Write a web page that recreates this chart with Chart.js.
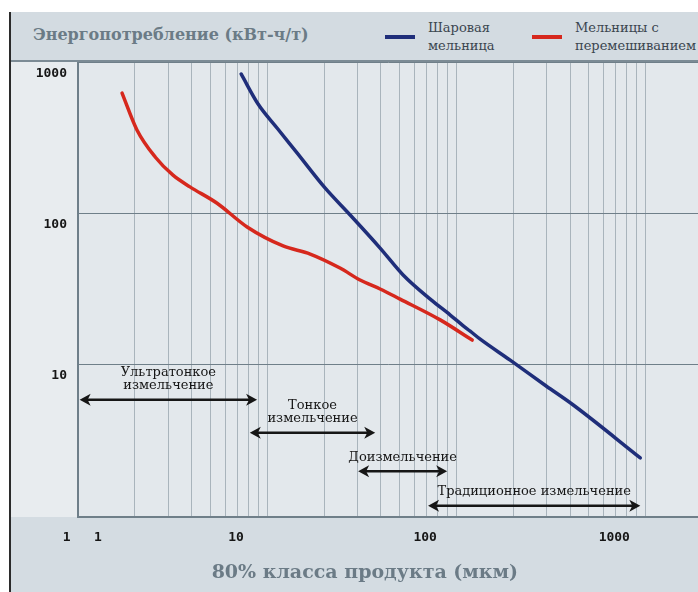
<!DOCTYPE html>
<html>
<head>
<meta charset="utf-8">
<script src="https://cdn.jsdelivr.net/npm/chart.js@4.4.1/dist/chart.umd.min.js"></script>
<style>
  body { margin: 0; background: #fff; width: 698px; height: 592px; overflow: hidden; position: relative; font-family: 'DejaVu Serif', serif; }
  #frame { position: absolute; left: 9px; top: 12px; width: 2px; height: 580px; background: #2b2b2b; }
  #head { position: absolute; left: 11px; top: 12px; width: 687px; height: 48px; background: #d3dbe1; border-bottom: 2px solid #7c8b95; }
  #ytitle { position: absolute; left: 22px; top: 13px; font-weight: bold; font-size: 16px; color: #6b7b86; white-space: nowrap; }
  .leg { position: absolute; top: 7px; font-size: 13px; line-height: 18px; color: #3b4650; white-space: nowrap; }
  .leg i { position: absolute; left: -43px; top: 16px; width: 30px; height: 4px; }
  #wrap { position: absolute; left: 11px; top: 62px; width: 687px; height: 530px; }
</style>
</head>
<body>
<div id="frame"></div>
<div id="head"><div id="ytitle">Энергопотребление (кВт-ч/т)</div></div>
<div id="wrap"><canvas id="chart" width="687" height="530"></canvas></div>
<script>
// ball mill
const ballX = [7.29, 8.96, 11.4, 14.4, 20.3, 27.5, 39.6, 52.4, 72.9, 93.0, 109, 118.6, 134, 193, 299, 416, 941];
const ballY = [833, 527, 360, 250, 146, 97, 58.6, 38.9, 26.9, 21.1, 17.9, 16.5, 14.6, 10.6, 7.15, 5.35, 2.39];
// stirred mills
const stirX = [1.71, 2.05, 2.56, 3.18, 3.91, 5.44, 7.84, 12.15, 16.9, 24.3, 31.0, 39.6, 50.5, 82.3, 121.5];
const stirY = [623, 355, 235, 178, 149, 116, 80.8, 60.5, 53.5, 43.2, 36.0, 31.4, 26.9, 19.6, 14.4];

const seriesNames = [['Шаровая', 'мельница'], ['Мельницы с', 'перемешиванием']];
const seriesColors = ['#1f2e7a', '#d6281d'];

const yTicks = [10, 100, 1000];
const xMajor = [1, 10, 100, 1000];
const xLabels = ['         1   1', '10', '100', '1000'];

// grinding ranges (мкм) and the energy level the arrow sits at
const rangeNames = [['Ультратонкое', 'измельчение'], ['Тонкое', 'измельчение'], ['Доизмельчение'], ['Традиционное измельчение']];
const rangeFrom = [1.02, 8.1, 30.3, 71];
const rangeTo = [8.85, 37.3, 89.6, 941];
const rangeLevel = [5.8, 3.5, 1.95, 1.15];

// legend in the header
const head = document.getElementById('head');
[428, 575].forEach((left, i) => {
  const d = document.createElement('div');
  d.className = 'leg';
  d.style.left = (left - 11) + 'px';
  d.innerHTML = '<i style="background:' + seriesColors[i] + '"></i>' + seriesNames[i].join('<br>');
  head.appendChild(d);
});

const bgPlugin = {
  id: 'bg',
  beforeDraw(chart) {
    const { ctx, chartArea: a, width, height } = chart;
    ctx.save();
    ctx.fillStyle = '#e8ecef';
    ctx.fillRect(0, 0, width, height);
    ctx.fillStyle = '#e3e8ec';
    ctx.fillRect(a.left, a.top, a.right - a.left, a.bottom - a.top);
    ctx.fillStyle = '#d4dce2';
    ctx.fillRect(0, a.bottom, width, height - a.bottom);
    ctx.restore();
  }
};

function arrowHead(ctx, x, y, dir) {
  ctx.beginPath();
  ctx.moveTo(x, y);
  ctx.lineTo(x - dir * 11, y - 6);
  ctx.lineTo(x - dir * 8, y);
  ctx.lineTo(x - dir * 11, y + 6);
  ctx.closePath();
  ctx.fill();
}

const rangePlugin = {
  id: 'ranges',
  afterDatasetsDraw(chart) {
    const { ctx, scales: { x, y } } = chart;
    ctx.save();
    ctx.strokeStyle = '#161616';
    ctx.fillStyle = '#161616';
    ctx.lineWidth = 2.5;
    ctx.font = '13px "DejaVu Serif"';
    ctx.textAlign = 'center';
    ctx.textBaseline = 'middle';
    rangeNames.forEach((lines, i) => {
      const x1 = x.getPixelForValue(rangeFrom[i]);
      const x2 = x.getPixelForValue(rangeTo[i]);
      const py = y.getPixelForValue(rangeLevel[i]);
      ctx.beginPath();
      ctx.moveTo(x1 + 6, py);
      ctx.lineTo(x2 - 6, py);
      ctx.stroke();
      arrowHead(ctx, x1, py, -1);
      arrowHead(ctx, x2, py, 1);
      const cx = (x1 + x2) / 2;
      lines.forEach((t, j) => {
        ctx.fillText(t, cx, py - 14 - (lines.length - 1 - j) * 13);
      });
    });
    ctx.restore();
  }
};

const xTicks = [];
xMajor.forEach(d => { for (let m = 1; m <= 9; m++) if (d * m <= 1000) xTicks.push(d * m); });

new Chart(document.getElementById('chart'), {
  type: 'line',
  data: {
    datasets: [
      { label: seriesNames[0].join(' '), data: ballX.map((v, i) => ({ x: v, y: ballY[i] })), borderColor: seriesColors[0] },
      { label: seriesNames[1].join(' '), data: stirX.map((v, i) => ({ x: v, y: stirY[i] })), borderColor: seriesColors[1] }
    ]
  },
  options: {
    responsive: false,
    animation: false,
    layout: { padding: 0 },
    elements: {
      line: { borderWidth: 3.5, cubicInterpolationMode: 'monotone', borderCapStyle: 'round', borderJoinStyle: 'round' },
      point: { radius: 0 }
    },
    plugins: { legend: { display: false }, tooltip: { enabled: false } },
    scales: {
      x: {
        type: 'logarithmic',
        min: 1,
        max: 1900,
        afterBuildTicks: s => { s.ticks = xTicks.map(v => ({ value: v })); },
        afterFit: s => { s.height = 75; s.paddingLeft = 0; s.paddingRight = 0; },
        grid: {
          drawTicks: false,
          color: c => c.tick && c.tick.value === 1 ? '#6f7f89' : '#a9b4bc',
          lineWidth: 1
        },
        border: { color: '#6f7f89', width: 2 },
        ticks: {
          autoSkip: false,
          maxRotation: 0,
          padding: 13,
          labelOffset: -31,
          color: '#151515',
          font: { family: 'DejaVu Sans Mono', weight: 'bold', size: 13 },
          callback: v => { const k = xMajor.indexOf(v); return k < 0 ? '' : xLabels[k]; }
        },
        title: {
          display: true,
          // trailing spaces shift the centred title left, as in the original
          text: '80% класса продукта (мкм)       ',
          color: '#6b7b86',
          font: { family: 'DejaVu Serif', weight: 'bold', size: 19 },
          padding: { top: 0, bottom: 8 }
        }
      },
      y: {
        type: 'logarithmic',
        min: 0.97,
        max: 1000,
        afterBuildTicks: s => { s.ticks = yTicks.map(v => ({ value: v })); },
        afterFit: s => { s.width = 67; s.paddingTop = 0; s.paddingBottom = 0; },
        grid: { drawTicks: false, color: '#6f7f89', lineWidth: 1 },
        border: { color: '#6f7f89', width: 1.5 },
        ticks: {
          padding: 11,
          labelOffset: 12,
          color: '#151515',
          font: { family: 'DejaVu Sans Mono', weight: 'bold', size: 13 },
          callback: v => String(v)
        }
      }
    }
  },
  plugins: [bgPlugin, rangePlugin]
});
</script>
</body>
</html>
